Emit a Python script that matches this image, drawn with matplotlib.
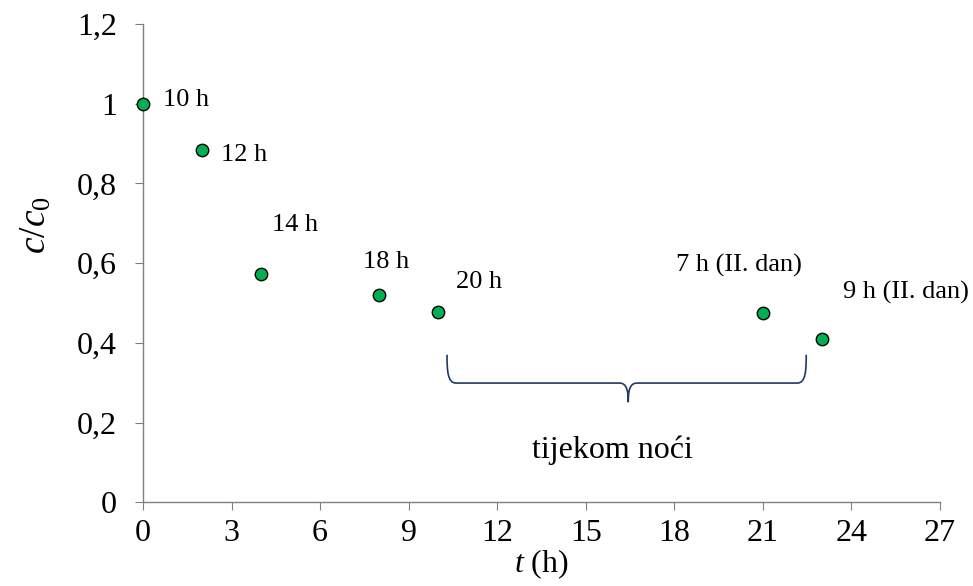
import numpy as np
import matplotlib.pyplot as plt
from matplotlib.path import Path
from matplotlib.patches import PathPatch

plt.rcParams['font.family'] = ['Liberation Serif', 'DejaVu Serif']
plt.rcParams['mathtext.fontset'] = 'custom'
plt.rcParams['mathtext.rm'] = 'Liberation Serif'
plt.rcParams['mathtext.it'] = 'Liberation Serif:italic'

# Podaci
t = [0, 2, 4, 8, 10, 21, 23]
c_c0 = [1.0, 0.883, 0.573, 0.521, 0.478, 0.475, 0.409]
oznake = ['10 h', '12 h', '14 h', '18 h', '20 h', '7 h (II. dan)', '9 h (II. dan)']
oznake_x = [0.68, 2.64, 4.37, 7.46, 10.6, 18.07, 23.7]
oznake_y = [1.01, 0.871, 0.695, 0.603, 0.552, 0.593, 0.527]

x_ticks = list(range(0, 28, 3))
y_ticks = [0, 0.2, 0.4, 0.6, 0.8, 1.0, 1.2]
y_tick_labels = ['0', '0,2', '0,4', '0,6', '0,8', '1', '1,2']

fig = plt.figure(figsize=(9.73, 5.86), dpi=100)
ax = fig.add_axes([0.147, 0.143, 0.819, 0.816])

ax.scatter(t, c_c0, s=80, color='#00B050', edgecolor='black', linewidth=1, zorder=3, clip_on=False)
for lab, lx, ly in zip(oznake, oznake_x, oznake_y):
    ax.text(lx, ly, lab, fontsize=19, va='center', ha='left')

# Vitičasta zagrada (tijekom noći)
x0, x1, xm = 10.3, 22.47, 16.44
ytop, yh, ytip = 0.37, 0.299, 0.251
verts = [(x0, ytop), (x0, 0.33), (x0 + 0.02, yh), (x0 + 0.3, yh),
         (xm - 0.3, yh),
         (xm - 0.05, yh), (xm, 0.28), (xm, ytip),
         (xm, 0.28), (xm + 0.05, yh), (xm + 0.3, yh),
         (x1 - 0.3, yh),
         (x1 - 0.02, yh), (x1, 0.33), (x1, ytop)]
codes = [Path.MOVETO, Path.CURVE4, Path.CURVE4, Path.CURVE4,
         Path.LINETO,
         Path.CURVE4, Path.CURVE4, Path.CURVE4,
         Path.CURVE4, Path.CURVE4, Path.CURVE4,
         Path.LINETO,
         Path.CURVE4, Path.CURVE4, Path.CURVE4]
ax.add_patch(PathPatch(Path(verts, codes), facecolor='none', edgecolor='#203864', linewidth=1.2))
ax.text(15.9, 0.13, 'tijekom noći', fontsize=23, ha='center', va='center')

ax.set_xlim(0, 27)
ax.set_ylim(0, 1.2)
ax.set_xticks(x_ticks)
ax.set_yticks(y_ticks)
ax.set_yticklabels(y_tick_labels)
ax.tick_params(axis='both', labelsize=23, color='#808080', length=6, direction='out')
ax.tick_params(axis='y', pad=13)
ax.tick_params(axis='x', pad=6)

for s in ['top', 'right']:
    ax.spines[s].set_visible(False)
for s in ['left', 'bottom']:
    ax.spines[s].set_color('#808080')
    ax.spines[s].set_linewidth(1)

ax.set_xlabel(r'$t$ (h)', fontsize=23)
ax.xaxis.set_label_coords(0.5, -0.095)
ax.set_ylabel(r'$c/c_\mathrm{0}$', fontsize=27)
ax.yaxis.set_label_coords(-0.112, 0.58)

plt.savefig('out.png', dpi=100)
